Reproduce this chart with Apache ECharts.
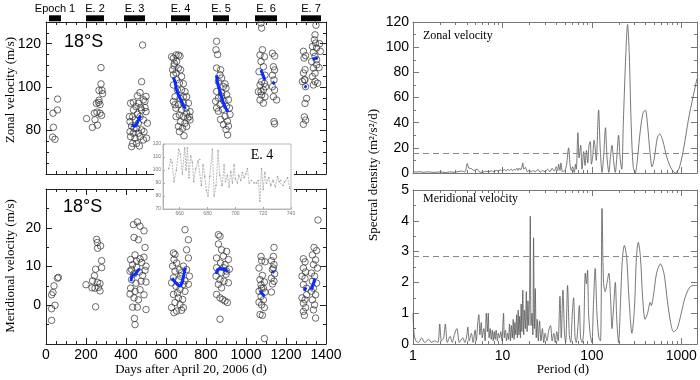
<!DOCTYPE html>
<html><head><meta charset="utf-8">
<script src="https://cdn.jsdelivr.net/npm/echarts@6/dist/echarts.min.js"></script>
<style>html,body{margin:0;padding:0;background:#fff}#c{width:700px;height:380px}</style>
</head><body><div id="c"></div>
<script>
// ---------- Epoch markers ----------
const epochLabels = ['Epoch 1','E. 2','E. 3','E. 4','E. 5','E. 6','E. 7'];
const epochStart = [15,200,390,625,835,1045,1275];
const epochEnd   = [75,290,495,720,915,1155,1375];

// ---------- Zonal velocity (day, m/s) ----------
const zonalE1 = [[35,88],[58,94.5],[37,81.5],[33,77],[45,76],[57,89.5]];
const zonalE2 = [[203,85.5],[232,81.5],[242,88],[257,82.5],[270,88],[278,87],[252,92.5],[263,93],[275,109],[280,98.5],[265,98.5],[275,101.5],[255,88.5],[245,85],[265,94],[283,97],[270,92]];
const zonalE3 = [[483,119.4],[478,102.5],[470,97.5],[500,95.7],[487,94.2],[462,92.6],[437,93],[423,92.6],[450,91],[495,90.6],[500,88.7],[478,89.5],[457,87.5],[433,86.4],[470,86.4],[445,84.9],[420,84.1],[462,83.4],[487,84.9],[507,83.4],[428,82.1],[453,81],[478,80.3],[420,79.5],[437,78.8],[462,78.8],[490,79.5],[503,76.5],[445,76.5],[423,77.2],[470,77.2],[433,74.1],[453,74.1],[428,72.6],[467,72.9],[487,75.7],[440,81],[417,86.4],[473,90.6],[495,93.5],[437,89.5],[457,96]];
const zonalE4 = [[650,114.8],[670,114.3],[637,113.3],[653,111.8],[640,109.8],[662,108.7],[633,108],[650,106.5],[678,104.9],[667,101.9],[687,101.6],[637,101],[657,98.7],[695,97.9],[645,95.6],[670,94.9],[703,95.6],[637,93.4],[662,91.9],[687,92.6],[712,92.6],[650,90.3],[678,89.5],[700,90.3],[720,88.7],[667,87.2],[687,86.4],[708,85.7],[720,84.9],[673,84.1],[695,83.4],[662,81.9],[683,81],[703,81.9],[667,79.5],[690,77.6],[645,91.9],[678,98.7],[653,103.4],[637,105.7],[687,95.6],[703,88],[650,86.4],[717,86.4],[673,108],[662,114.8],[642,111],[628,114]];
const zonalE5 = [[853,121.1],[850,117.2],[858,115],[853,108.8],[870,105.7],[878,104.2],[862,102.6],[887,100.3],[900,99.6],[853,98],[878,97.3],[903,96.5],[862,95],[890,93.5],[912,94.2],[870,92],[903,91.2],[853,90.4],[883,89.7],[917,90.4],[895,86.6],[873,85.1],[907,84.3],[887,82.8],[912,82.1],[900,80.5],[908,78],[862,88.9],[878,95.8],[895,101.5],[873,108],[920,87.4],[848,93.5]];
const zonalE6 = [[1075,129.5],[1078,127.2],[1082,117.2],[1070,114.8],[1092,114],[1075,111.8],[1087,109.4],[1065,107.1],[1095,105.5],[1078,102.5],[1070,101],[1098,100.2],[1087,98.7],[1062,97.9],[1078,96.4],[1095,95.6],[1070,94.1],[1087,92.6],[1075,97.9],[1092,101.7],
  [1132,115.6],[1143,114.3],[1137,109.4],[1143,107.9],[1132,105.5],[1140,103.3],[1132,100.2],[1143,98.7],[1137,95.6],[1153,94.1],[1140,84.1],[1143,83.1]];
const zonalE7 = [[1287,116.5],[1298,114.5],[1290,113.4],[1295,108],[1287,106.5],[1295,103.4],[1282,102.6],[1298,100.2],[1303,94.8],[1295,92.5],[1292,86.3],[1298,84.8],[1287,82.9],[1292,103.4],
  [1345,124.1],[1342,121.8],[1348,120.3],[1332,118.7],[1353,118],[1337,116],[1345,114.2],[1328,111.8],[1353,110.3],[1337,108.8],[1345,106.4],[1332,104.9],[1345,102.6],[1358,101.8],[1337,101],[1353,112.6],[1350,128.5],[1368,120],[1372,116.5],[1365,109]];
const zonalFits = [
  [[428,82.5],[435,81.8],[445,82],[455,83.2],[463,85],[472,87]],
  [[637,104.5],[645,102.5],[652,99],[662,96.5],[675,94],[688,91.5],[697,90]],
  [[852,105.5],[860,101],[870,98],[882,94],[895,91],[910,88.5]],
  [[1075,107.9],[1095,103.3]],
  [[1132,102.5],[1143,101.4]],
  [[1292,100.5],[1303,99.9]],
  [[1332,112.9],[1358,113.4]]
];

// ---------- Meridional velocity (day, m/s) ----------
const meridE1 = [[28,-3.9],[28,-0.9],[45,0],[28,2.7],[35,3.3],[40,5],[57,7],[62,7.2]];
const meridE2 = [[200,5.3],[248,-0.4],[253,17],[257,16.2],[258,14.7],[273,15.3],[278,11.5],[278,9.7],[248,9.3],[233,6.3],[245,4.4],[262,4.6],[270,3.7],[242,7.6],[270,5.6],[257,5.9],[230,4.5]];
const meridE3 = [[437,20.8],[457,21.5],[470,20.4],[490,19.2],[440,17.5],[462,16.9],[495,14.9],[423,11.8],[445,13],[470,12],[490,12.4],[433,10.5],[453,9.8],[478,11],[420,8.8],[440,8.1],[467,8.6],[495,9],[428,6.6],[450,5.7],[475,6.2],[500,6],[423,4.4],[445,3.6],[470,4],[490,2.7],[420,2.9],[440,1.9],[462,1.4],[433,-0.5],[457,-0.5],[500,-1.1],[442,-3.4],[445,-5],[428,9.2],[483,7.7],[453,11.4],[500,10.1]];
const meridE4 = [[695,19.5],[712,16.9],[703,14.3],[637,13.5],[645,13.1],[640,11.8],[712,12.2],[653,10.9],[633,10.1],[687,10.1],[667,9.2],[645,8.8],[703,9.2],[678,8.4],[637,7.1],[662,6.6],[717,7.5],[628,5.8],[687,5.4],[650,4.9],[670,4.1],[695,3.6],[637,2.8],[662,1.9],[683,1.5],[645,0.7],[670,0.2],[628,-0.6],[653,-1.5],[678,-1.3],[640,-1.9],[695,6.3],[673,7.5],[657,3.2],[712,5.4],[687,-0.6]];
const meridE5 = [[862,18.2],[870,17.8],[862,15.8],[878,14.3],[903,13.9],[887,12.7],[853,12.2],[912,11.8],[873,10.9],[895,10.5],[853,9.7],[917,9.3],[878,8.4],[900,8],[850,7.5],[870,6.6],[890,6.2],[912,5.8],[862,5.4],[878,4.5],[853,2.8],[870,1.9],[883,1.5],[895,1.1],[907,0.7],[870,-3.6],[903,8.8],[887,9.7]];
const meridE6 = [[1075,12.6],[1078,11.5],[1095,11.2],[1065,9.6],[1082,7.7],[1070,6.6],[1092,6],[1075,5.3],[1087,4.4],[1065,3.6],[1095,3.4],[1075,2.3],[1087,1.4],[1065,0.8],[1078,0.1],[1092,-0.6],[1070,-2.4],[1082,-2.6],[1092,-8.6],[1078,4.4],
  [1140,14.9],[1137,12.6],[1127,11.5],[1140,10.5],[1132,9.2],[1143,8.1],[1127,7],[1140,6.2],[1132,5.5],[1127,3.4],[1137,9.6]];
const meridE7 = [[1287,12],[1295,11.2],[1287,9.6],[1298,8.6],[1280,7.5],[1295,6.9],[1287,5.3],[1303,4.4],[1280,1.9],[1295,1.4],[1287,0.5],[1298,-0.6],[1287,-1.6],[1292,-2.6],[1303,2.7],
  [1360,22],[1340,14.9],[1353,14.1],[1332,13],[1348,11.7],[1337,10.5],[1357,9.6],[1327,8.3],[1343,7.5],[1332,6.2],[1353,5.7],[1337,4.4],[1327,3.6],[1348,2.7],[1332,1.4],[1343,0.1],[1337,-1.2],[1348,-3.3]];
const meridFits = [
  [[425,6.2],[430,7.9],[445,7.9],[455,8.1],[460,9],[470,9.4]],
  [[630,7],[645,6],[660,5.2],[672,4.9],[682,6],[690,8],[697,9.7]],
  [[850,8.1],[858,9.2],[870,9.5],[885,9.4],[900,9.1],[910,8.6]],
  [[1070,3.7],[1092,2.3]],
  [[1132,8.3],[1137,8.9]],
  [[1292,3.7],[1300,4.6]],
  [[1327,4],[1345,6.9]]
];

// ---------- Inset: Epoch 4 zonal time series ----------
const insetDays = [652.1,653.5,654.5,655.9,657.6,659.3,660.5,661.9,663.6,664.6,665.5,666.7,667.9,669.1,670.1,671.5,673.2,674.4,675.6,676.8,678,679.2,680.4,681.6,683.5,684.7,686.1,687.6,688.8,690.5,691.9,692.9,694.3,695.5,696.7,697.9,699.1,700,701.5,702.4,703.9,705.1,706.3,707.5,708.7,709.9,711.6,713.5,715.2,716.4,717.6,718.8,720,721.2,722.4,724,725.5,727.1,728.8,730.3,731.5,732.7,734.3,735.5,737.5,739.1];
const insetVel  = [101,108,106,91,100,116,112,97,117,100,117,94,111,106,91,101,107,108,88,104,95,84,80,95,116,80,88,115,96,88,104,91,96,87,99,90,104,93,90,96,92,98,94,97,101,90,92,90,90,92,76,101,85,98,90,94,88,92,87,95,91,92,88,91,94,86];

// ---------- Spectra (period d, m^2/s^2/d) ----------
const zonalSpec = [[1,1],[1.1,0.8],[1.2,1],[1.3,0.6],[1.5,0.9],[1.7,0.5],[2,0.8],[2.3,0.4],[2.6,0.9],[2.9,0.5],[3.2,1.2],[3.5,1.5],[3.8,0.8],[4.05,7.5],[4.2,4],[4.5,3.5],[4.8,2],[5.2,3],[5.5,1],[6,0.5],[6.5,1.5],[7,0.8],[7.5,1.8],[8,1],[8.5,2],[9,1.5],[9.5,2.5],[10,1.8],[10.5,2.8],[11,1.5],[11.5,3],[12,2],[12.5,3.2],[13,1.8],[13.5,3],[14,2.2],[14.5,3.8],[15,2],[15.5,4],[16,2.5],[16.5,4.5],[16.9,8],[17.3,3],[18,4.5],[19,1],[20,2.5],[21,0.8],[22,2],[23.5,1],[25,2.8],[26.5,0.6],[28,2],[30,1],[32,3],[34,1],[36,3.8],[38,1.5],[40,5],[41.5,2],[42.5,7],[44,2],[45.2,8],[47,1],[50,2],[52,6],[55,20],[57,7],[59,2],[61,5],[63.6,0.5],[65.7,7],[67,3],[69.9,32],[72,12],[75,22],[77.7,3],[81,17],[84,6],[87,18],[90,8],[93,22],[96,25],[99,7],[102,12],[106,26],[109,20],[112,10],[119,50],[124,20],[130,0.5],[136,15],[142,36],[148,12],[155,0.5],[161,12],[168,22],[175,10],[183,0.5],[190,12],[199,30],[207,12],[216,3],[225,40],[240,95],[251,118],[262,95],[275,40],[290,5],[306,0],[320,8],[350,35],[375,48],[397,50],[420,38],[445,18],[471,5],[500,12],[540,28],[574,31],[620,26],[693,12],[780,3],[860,0],[950,4],[1067,20],[1200,42],[1350,60],[1500,75]];
const meridSpec = [[1,1.0],[1.03,0.3],[1.08,0.1],[1.15,0.05],[1.25,0.2],[1.35,0.05],[1.5,0.15],[1.6,0.05],[1.75,0.1],[1.9,0.05],[1.99,0.65],[2.08,0.1],[2.2,0.2],[2.3,0.65],[2.42,0.05],[2.6,0.25],[2.75,0.05],[2.9,0.3],[3.1,0.5],[3.3,0.05],[3.6,0.2],[3.8,0.05],[4.0,0.3],[4.1,0.55],[4.25,0.1],[4.5,0.35],[4.7,0.05],[4.95,0.45],[5.1,0.1],[5.3,0.7],[5.45,0.95],[5.6,0.3],[5.8,0.7],[5.95,0.2],[6.2,0.5],[6.4,0.1],[6.6,1.0],[6.8,0.4],[6.95,1.0],[7.1,0.2],[7.3,0.5],[7.5,0.15],[7.7,0.45],[7.9,0.1],[8.1,0.4],[8.3,0.15],[8.5,0.45],[8.8,0.1],[9.0,0.35],[9.3,0.2],[9.6,0.4],[9.9,0.1],[10.1,0.6],[10.3,1.0],[10.5,0.2],[10.8,0.45],[11.1,0.1],[11.4,0.35],[11.7,0.15],[12,0.65],[12.3,0.1],[12.6,0.6],[12.9,0.2],[13.2,0.8],[13.5,0.15],[13.8,0.7],[14.1,0.3],[14.4,0.95],[14.7,0.2],[15,1.1],[15.3,0.3],[15.6,0.9],[15.9,0.2],[16.2,1.3],[16.5,0.4],[16.9,1.75],[17.3,0.3],[17.7,1.1],[18.1,0.5],[18.5,1.7],[18.9,0.4],[19.3,1.4],[19.7,0.6],[20.1,1.5],[20.5,4.15],[20.9,0.6],[21.4,1.0],[21.9,0.3],[22.3,3.45],[22.8,0.5],[23.3,1.8],[23.9,0.2],[24.5,0.8],[25.2,0.1],[26,0.75],[27,0.1],[28,0.5],[29,0.05],[30,0.35],[31.5,0.1],[33,0.45],[34.5,0.6],[36,0.1],[37.5,0.35],[39,0.05],[40.5,0.4],[42,0.1],[44,1.55],[45.5,0.2],[47.5,1.75],[49.5,0.3],[51,0.05],[53.5,1.9],[56,0.3],[58,0.05],[60.5,1.0],[62.5,1.5],[65,0.2],[67,0.05],[70,0.6],[72.5,1.25],[75,0.2],[78,0.05],[81,0.4],[84.5,2.3],[87,1.95],[89.5,2.4],[92,1.0],[96,0.3],[100,0.05],[104,1.2],[109,2.45],[114,1.0],[120,0.2],[125,0.1],[130,4.4],[135,2.0],[141,1.7],[148,2.0],[155,2.3],[162,1.5],[168,0.5],[175,1.2],[183,2.0],[190,0.8],[199,0.05],[210,1.5],[220,2.8],[231,3.2],[245,2.8],[260,1.5],[281,0.35],[300,1.2],[315,2.8],[331,3.3],[350,2.8],[370,1.5],[394,0.8],[420,1.0],[450,1.35],[463,1.25],[490,1.6],[530,2.3],[585,2.6],[640,2.3],[700,1.4],[760,0.7],[820,0.4],[900,0.5],[1000,1.0],[1100,1.5],[1250,1.85],[1400,1.9],[1500,1.9]];
const zonalThreshold = 16;
const meridThreshold = 2.85;

// ---------- tick labels ----------
const insetDayTicks = [660,680,700,720,740];

// ================= chart =================
const SANS = '"Liberation Sans", Arial, sans-serif';
const SERIF = '"Liberation Serif", "Times New Roman", serif';
const LCOL = '#222', RCOL = '#777';
const plain = v => String(v);

function valAxis(o) {
  const col = o.color;
  return {
    type: 'value', gridIndex: o.grid, min: o.min, max: o.max, interval: o.interval,
    position: o.position,
    axisLine: {show: true, onZero: false, lineStyle: {color: col, width: 1}},
    axisTick: {show: true, inside: true, length: 6, lineStyle: {color: col}},
    minorTick: {show: true, splitNumber: o.minor || 4, length: 3, lineStyle: {color: col}},
    splitLine: {show: false}, minorSplitLine: {show: false},
    axisLabel: {show: !!o.labels, margin: o.margin || 5, color: '#000', fontSize: 14, fontFamily: SANS,
      formatter: plain, showMinLabel: o.showMin, showMaxLabel: o.showMax}
  };
}
function logAxis(o) {
  const col = o.color;
  return {
    type: 'log', logBase: 10, gridIndex: o.grid, min: 1, max: 1500, position: o.position,
    axisLine: {show: true, onZero: false, lineStyle: {color: col, width: 1}},
    axisTick: {show: true, inside: true, length: 6, lineStyle: {color: col}},
    minorTick: {show: true, splitNumber: 9, length: 3, lineStyle: {color: col}},
    splitLine: {show: false}, minorSplitLine: {show: false},
    axisLabel: {show: !!o.labels, margin: 5, color: '#000', fontSize: 14, fontFamily: SANS, formatter: plain, showMaxLabel: false}
  };
}

const xAxes = [
  valAxis({grid:0, min:0, max:1400, interval:200, position:'bottom', color:LCOL}),
  valAxis({grid:0, min:0, max:1400, interval:200, position:'top', color:LCOL}),
  valAxis({grid:1, min:0, max:1400, interval:200, position:'bottom', color:LCOL, labels:true, margin:4}),
  valAxis({grid:1, min:0, max:1400, interval:200, position:'top', color:LCOL}),
  logAxis({grid:2, position:'bottom', color:RCOL}),
  logAxis({grid:2, position:'top', color:RCOL}),
  logAxis({grid:3, position:'bottom', color:RCOL, labels:true}),
  logAxis({grid:3, position:'top', color:RCOL}),
  {type:'value', gridIndex:4, min:648, max:740, zlevel:1, z:5,
    axisLine:{show:true, onZero:false, lineStyle:{color:'#aaa', width:0.8}},
    axisTick:{show:true, inside:true, length:2, customValues: insetDayTicks, lineStyle:{color:'#aaa'}},
    splitLine:{show:false},
    axisLabel:{show:true, customValues: insetDayTicks, fontSize:5, color:'#777', margin:2, fontFamily:SANS}}
];
const yAxes = [
  valAxis({grid:0, min:60, max:130, interval:20, position:'left', color:LCOL, labels:true, showMin:false, showMax:false}),
  valAxis({grid:0, min:60, max:130, interval:20, position:'right', color:LCOL}),
  valAxis({grid:1, min:-10, max:30, interval:10, position:'left', color:LCOL, labels:true, showMin:false, showMax:false, minor:2}),
  valAxis({grid:1, min:-10, max:30, interval:10, position:'right', color:LCOL, minor:2}),
  valAxis({grid:2, min:0, max:120, interval:20, position:'left', color:RCOL, labels:true, margin:4, minor:2}),
  valAxis({grid:2, min:0, max:120, interval:20, position:'right', color:RCOL, minor:2}),
  valAxis({grid:3, min:0, max:5, interval:1, position:'left', color:RCOL, labels:true, margin:4, minor:2}),
  valAxis({grid:3, min:0, max:5, interval:1, position:'right', color:RCOL, minor:2}),
  {type:'value', gridIndex:4, min:70, max:120, interval:10, zlevel:1, z:5,
    axisLine:{show:true, onZero:false, lineStyle:{color:'#aaa', width:0.8}},
    axisTick:{show:true, inside:true, length:2, lineStyle:{color:'#aaa'}},
    splitLine:{show:false},
    axisLabel:{show:true, fontSize:5, color:'#777', margin:2, fontFamily:SANS}}
];

function scatter(data, xi, yi) {
  return {type:'scatter', xAxisIndex:xi, yAxisIndex:yi, data:data, symbol:'circle', symbolSize:6.5,
    itemStyle:{color:'rgba(0,0,0,0)', borderColor:'#333', borderWidth:0.9}, silent:true, z:2};
}
function fit(data, xi, yi) {
  return {type:'line', xAxisIndex:xi, yAxisIndex:yi, data:data, showSymbol:false, symbol:'none',
    lineStyle:{color:'#0a2cff', width:3}, z:4, silent:true, clip:false};
}

const series = [];
[zonalE1,zonalE2,zonalE3,zonalE4,zonalE5,zonalE6,zonalE7].forEach(d => series.push(scatter(d,0,0)));
zonalFits.forEach(d => series.push(fit(d,0,0)));
[meridE1,meridE2,meridE3,meridE4,meridE5,meridE6,meridE7].forEach(d => series.push(scatter(d,2,2)));
meridFits.forEach(d => series.push(fit(d,2,2)));

// epoch bars
series.push({
  type:'custom', xAxisIndex:0, yAxisIndex:0, clip:false, silent:true,
  data: epochStart.map((s,i) => [s, epochEnd[i]]),
  renderItem: function(params, api) {
    const s = api.coord([api.value(0), 130]);
    const e = api.coord([api.value(1), 130]);
    return {type:'group', children:[
      {type:'rect', shape:{x:s[0], y:s[1]-6.7, width:e[0]-s[0], height:6}, style:{fill:'#000'}},
      {type:'text', style:{text: epochLabels[params.dataIndex], x:(s[0]+e[0])/2, y:s[1]-13.3,
        textAlign:'center', textVerticalAlign:'middle', font:'11px ' + SANS, fill:'#000'}}
    ]};
  }
});

// spectra
series.push({type:'line', xAxisIndex:4, yAxisIndex:4, data:zonalSpec, showSymbol:false, symbol:'none', smooth:0.3,
  lineStyle:{color:'#555', width:0.8}, silent:true,
  markLine:{silent:true, symbol:['none','none'], label:{show:false}, lineStyle:{type:[6,4], color:'#888', width:1}, data:[{yAxis: zonalThreshold}]}});
series.push({type:'line', xAxisIndex:6, yAxisIndex:6, data:meridSpec, showSymbol:false, symbol:'none', smooth:0.3,
  lineStyle:{color:'#555', width:0.8}, silent:true,
  markLine:{silent:true, symbol:['none','none'], label:{show:false}, lineStyle:{type:[6,4], color:'#888', width:1}, data:[{yAxis: meridThreshold}]}});

// inset series
series.push({type:'line', xAxisIndex:8, yAxisIndex:8, zlevel:1, z:6, data: insetDays.map((d,i)=>[d, insetVel[i]]),
  showSymbol:true, symbol:'circle', symbolSize:1.5, itemStyle:{color:'#999'},
  lineStyle:{color:'#aaa', width:0.8, type:[2,1]}, silent:true});

function vtext(t, x, y, size, font) {
  return {type:'text', x:x, y:y, rotation:Math.PI/2, silent:true,
    style:{text:t, font:size+'px '+font, fill:'#000', textAlign:'center', textVerticalAlign:'middle'}};
}
function htext(t, x, y, size, font, align) {
  return {type:'text', x:x, y:y, silent:true,
    style:{text:t, font:size+'px '+font, fill:'#000', textAlign:align||'center', textVerticalAlign:'middle'}};
}

const option = {
  animation:false,
  backgroundColor:'#fff',
  grid:[
    {left:46, top:22, width:280, height:152},
    {left:46, top:189, width:280, height:155},
    {left:413, top:22, width:284, height:151},
    {left:413, top:190, width:284, height:154},
    {left:163, top:144, width:128, height:65, show:true, backgroundColor:'#fff', borderColor:'#aaa', borderWidth:0.8, zlevel:1, z:2}
  ],
  xAxis:xAxes, yAxis:yAxes, series:series,
  graphic:[
    {type:'rect', zlevel:1, z:0, silent:true, shape:{x:154, y:141, width:140, height:75}, style:{fill:'#fff'}},
    vtext('Zonal velocity (m/s)', 11, 90, 13, SERIF),
    vtext('Meridional velocity (m/s)', 11, 266, 13, SERIF),
    vtext('Spectral density (m\u00b2/s\u00b2/d)', 374, 175, 13, SERIF),
    htext('Days after April 20, 2006 (d)', 191, 370, 13, SERIF),
    htext('Period (d)', 563, 370, 13, SERIF),
    htext('18\u00b0S', 64, 42, 18, SANS, 'left'),
    htext('18\u00b0S', 63, 207, 18, SANS, 'left'),
    htext('Zonal velocity', 423, 36, 12, SERIF, 'left'),
    htext('Meridional velocity', 423, 199, 12, SERIF, 'left'),
    {type:'text', x:262, y:155, zlevel:1, z:10, silent:true,
      style:{text:'E. 4', font:'14px '+SERIF, fill:'#000', textAlign:'center', textVerticalAlign:'middle'}}
  ]
};
echarts.init(document.getElementById('c'), null, {renderer:'canvas'}).setOption(option);
</script></body></html>
